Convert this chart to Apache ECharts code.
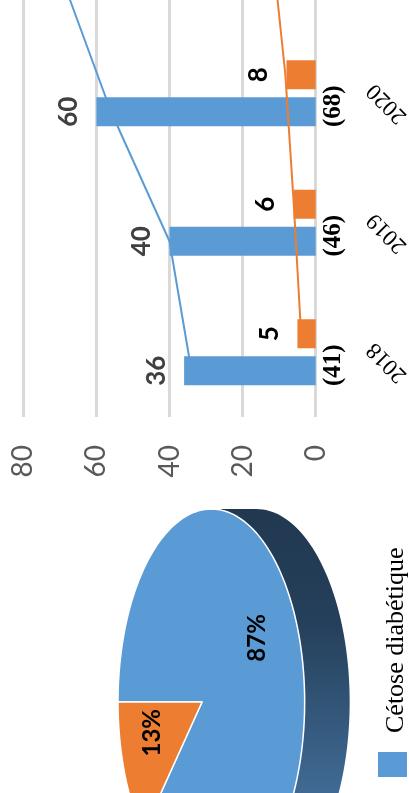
<!DOCTYPE html>
<html>
<head>
<meta charset="utf-8">
<script src="https://cdn.jsdelivr.net/npm/echarts@6/dist/echarts.min.js"></script>
<style>
  html, body { margin: 0; padding: 0; background: #ffffff; }
  #frame { position: relative; width: 409px; height: 793px; overflow: hidden; }
  #chart { position: absolute; left: 0; top: -101px; width: 409px; height: 894px; }
</style>
</head>
<body>
<div id="frame"><div id="chart"></div></div>
<script>
// Yearly counts (bars), trend lines and the share pie
const years = ['2018', '2019', '2020', '2021'];
const totalLabels = ['(41)', '(46)', '(68)', '(81)'];
const cetoseBars = [36, 40, 60, 69];
const acidoBars = [5, 6, 8, 12];
const cetoseLine = [34, 40, 56, 69];
const acidoLine = [4, 6, 8.3, 12];
const valueTicks = [0, 20, 40, 60, 80];
const pieNames = ['Cétose diabétique', 'Acidocétose diabétique'];
const pieValues = [87, 13];

const BLUE = '#5b9bd5';
const ORANGE = '#ed7d31';

// the canvas starts 101px above the visible frame
const SHIFT = 101;

// layout of the bar panel
const GRID = { left: 23.3, right: 93.3, top: 0, bottom: 376 };
const BAR_W = 29;
const BAR_GAP = 8;
const bandPx = (793 + SHIFT - GRID.top - GRID.bottom) / years.length;
const lineShift = (BAR_W + BAR_GAP) / 2 / bandPx;

// tilted pie geometry (canvas pixels)
const PIE = { cx: 202, cy: 702 + SHIFT, a: 92.4, r: 192, k: 0.1, depth: 45, start: 180, labelF: 0.62, labelDy: -14 };

function piePoint(deg, f) {
  const t = deg * Math.PI / 180;
  const c = Math.cos(t) * f, s = Math.sin(t) * f;
  const p = 1 / (1 - PIE.k * c);
  return [PIE.cx + PIE.a * c * p, PIE.cy + PIE.r * s * p];
}
function arcPoints(a0, a1, f, dx) {
  const pts = [];
  const n = Math.max(2, Math.ceil(Math.abs(a1 - a0) / 2));
  for (let i = 0; i <= n; i++) {
    const p = piePoint(a0 + (a1 - a0) * i / n, f);
    pts.push([p[0] + (dx || 0), p[1]]);
  }
  return pts;
}
// silhouette angles of the rim (highest and lowest points on screen)
let thTop = 270, thBot = 90, yMin = Infinity, yMax = -Infinity;
for (let d = 0; d < 360; d += 0.25) {
  const y = piePoint(d, 1)[1];
  if (y < yMin) { yMin = y; thTop = d; }
  if (y > yMax) { yMax = y; thBot = d; }
}
if (thBot < thTop) thBot += 360;

const pieSum = pieValues.reduce((s, v) => s + v, 0);
const pieAngles = [];
{
  let acc = PIE.start;
  pieValues.forEach(v => {
    const span = v / pieSum * 360;
    pieAngles.push([acc, acc + span]);
    acc += span;
  });
}
const pieTop = [BLUE, ORANGE];
const pieSide = [
  new echarts.graphic.LinearGradient(0, 0, 0, 1, [
    { offset: 0, color: '#213850' },
    { offset: 0.3, color: '#25405b' },
    { offset: 0.7, color: '#3e6790' },
    { offset: 1, color: '#4b7bab' }
  ]),
  '#8a4719'
];

function renderPieSlice(params, api) {
  const i = params.dataIndex;
  const [a0, a1] = pieAngles[i];
  const children = [];
  // visible rim part of this slice
  for (const shift of [-360, 0, 360]) {
    const s0 = Math.max(a0 + shift, thTop), s1 = Math.min(a1 + shift, thBot);
    if (s1 > s0) {
      const top = arcPoints(s0, s1, 1, 0);
      const bot = arcPoints(s1, s0, 1, PIE.depth);
      children.push({ type: 'polygon', shape: { points: top.concat(bot) }, style: { fill: pieSide[i], stroke: null } });
    }
  }
  const face = [[PIE.cx, PIE.cy]].concat(arcPoints(a0, a1, 1, 0));
  children.push({ type: 'polygon', shape: { points: face }, style: { fill: pieTop[i], stroke: '#ffffff', lineWidth: 1.5, lineJoin: 'round' } });
  const mid = (a0 + a1) / 2;
  const lp = piePoint(mid, PIE.labelF);
  children.push({
    type: 'text', x: lp[0], y: lp[1] + PIE.labelDy, rotation: Math.PI / 2, z2: 10,
    style: { text: Math.round(api.value(0) / pieSum * 100) + '%', fill: '#000000', font: 'bold 24px Lato', align: 'center', verticalAlign: 'middle' }
  });
  return { type: 'group', children };
}

// year captions, slanted, beside the count captions
const YEAR_MARGIN = 55;
const YEAR_DY = -6;
function renderYear(params, api) {
  const p = api.coord([0, api.value(0)]);
  return {
    type: 'text', x: p[0] + YEAR_MARGIN, y: p[1] + YEAR_DY, rotation: Math.PI * 3 / 4,
    style: { text: years[params.dataIndex], font: '23px "Liberation Serif"', fill: '#000000', align: 'right', verticalAlign: 'middle' }
  };
}

const barLabel = { show: true, position: 'left', distance: 15, rotate: 90, align: 'center', verticalAlign: 'bottom', fontFamily: 'Lato', fontWeight: 'bold', fontSize: 26 };

const chart = echarts.init(document.getElementById('chart'), null, { renderer: 'canvas' });
chart.setOption({
  animation: false,
  backgroundColor: '#ffffff',
  grid: { left: GRID.left, right: GRID.right, top: GRID.top, bottom: GRID.bottom, containLabel: false },
  xAxis: {
    type: 'value', inverse: true, position: 'bottom',
    min: valueTicks[0], max: valueTicks[valueTicks.length - 1], interval: valueTicks[1] - valueTicks[0],
    axisLine: { show: false }, axisTick: { show: false },
    splitLine: { show: true, lineStyle: { color: '#d9d9d9', width: 3 } },
    axisLabel: { rotate: 90, margin: 28, fontSize: 28, fontFamily: 'Lato', color: '#595959' }
  },
  yAxis: [
    {
      type: 'category', data: totalLabels, position: 'right',
      axisLine: { show: false }, axisTick: { show: false }, splitLine: { show: false },
      axisLabel: { rotate: 90, margin: 5, fontSize: 25, fontFamily: 'Liberation Serif', fontWeight: 'bold', color: '#000000', padding: [0, 26, 0, 0] }
    },
    { type: 'value', min: -0.5, max: years.length - 0.5, show: false }
  ],
  series: [
    {
      name: pieNames[1], type: 'bar', yAxisIndex: 0, data: acidoBars, barWidth: BAR_W, barGap: (BAR_GAP / BAR_W * 100) + '%',
      itemStyle: { color: ORANGE },
      label: Object.assign({ color: '#000000' }, barLabel)
    },
    {
      name: pieNames[0], type: 'bar', yAxisIndex: 0, data: cetoseBars, barWidth: BAR_W, barGap: (BAR_GAP / BAR_W * 100) + '%',
      itemStyle: { color: BLUE },
      label: Object.assign({ color: '#404040' }, barLabel)
    },
    {
      name: pieNames[0] + ' (courbe)', type: 'line', yAxisIndex: 1, z: 5,
      data: cetoseLine.map((v, i) => [v, i - lineShift]),
      showSymbol: false, symbol: 'none', lineStyle: { color: BLUE, width: 2 }
    },
    {
      name: pieNames[1] + ' (courbe)', type: 'line', yAxisIndex: 1, z: 5,
      data: acidoLine.map((v, i) => [v, i + lineShift]),
      showSymbol: false, symbol: 'none', lineStyle: { color: ORANGE, width: 2 }
    },
    {
      type: 'custom', xAxisIndex: 0, yAxisIndex: 0, silent: true, clip: false,
      data: years.map((y, i) => [i]),
      encode: { y: 0 },
      renderItem: renderYear
    },
    {
      type: 'custom', coordinateSystem: 'none', silent: true,
      data: pieValues.map((v, i) => ({ name: pieNames[i], value: [v] })),
      renderItem: renderPieSlice
    }
  ],
  graphic: [
    { type: 'rect', shape: { x: 378, y: 752 + SHIFT, width: 29, height: 25 }, style: { fill: BLUE } },
    {
      type: 'text', x: 396, y: 733 + SHIFT, rotation: Math.PI / 2,
      style: { text: pieNames[0], font: '26px "Liberation Serif"', fill: '#000000', align: 'left', verticalAlign: 'middle' }
    }
  ]
});
</script>
</body>
</html>
